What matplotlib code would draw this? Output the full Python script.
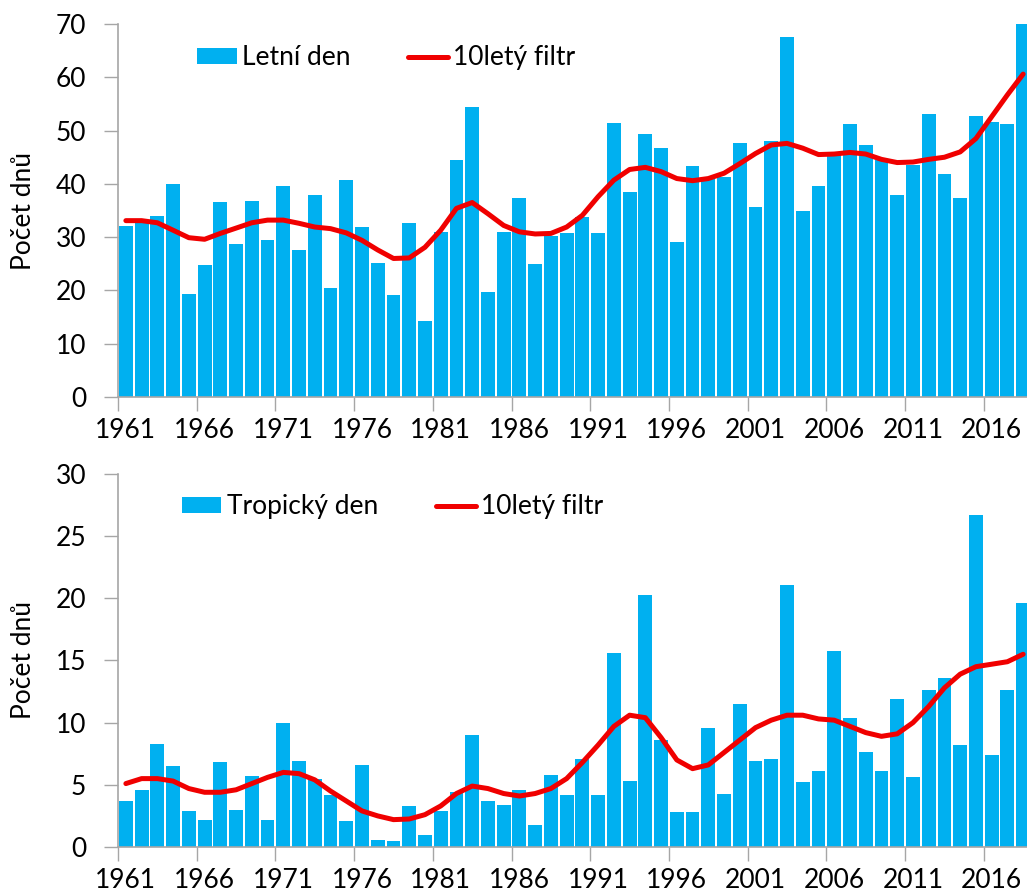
import numpy as np
import matplotlib
matplotlib.use("Agg")
import matplotlib.pyplot as plt

plt.rcParams['font.family'] = ['Lato', 'DejaVu Sans']

years = list(range(1961, 2019))

letni_den = [32.1, 33.0, 33.9, 40.0, 19.3, 24.7, 36.6, 28.7, 36.8, 29.4,
             39.6, 27.6, 37.9, 20.5, 40.7, 31.9, 25.2, 19.1, 32.7, 14.2,
             31.0, 44.4, 54.4, 19.7, 31.0, 37.3, 25.0, 30.2, 30.7, 33.8,
             30.7, 51.5, 38.4, 49.4, 46.8, 29.0, 43.3, 41.0, 41.3, 47.7,
             35.6, 48.0, 67.6, 35.0, 39.6, 45.8, 51.2, 47.3, 44.5, 37.9,
             43.5, 53.2, 41.8, 37.3, 52.7, 51.7, 51.3, 70.0]
letni_filtr = [33.1, 33.1, 32.7, 31.3, 29.9, 29.6, 30.7, 31.7, 32.7, 33.2,
               33.2, 32.6, 31.9, 31.6, 30.8, 29.4, 27.6, 26.0, 26.1, 28.1,
               31.3, 35.4, 36.5, 34.4, 32.2, 31.0, 30.6, 30.7, 31.9, 34.1,
               37.6, 40.7, 42.7, 43.1, 42.3, 41.0, 40.6, 41.0, 42.0, 43.8,
               45.7, 47.3, 47.6, 46.7, 45.5, 45.6, 45.9, 45.6, 44.6, 44.0,
               44.1, 44.6, 45.0, 46.0, 48.5, 52.6, 56.7, 60.6]

tropicky_den = [3.7, 4.6, 8.3, 6.5, 2.9, 2.2, 6.8, 3.0, 5.7, 2.2,
                10.0, 6.9, 5.5, 4.2, 2.1, 6.6, 0.6, 0.5, 3.3, 1.0,
                2.9, 4.4, 9.0, 3.7, 3.4, 4.6, 1.8, 5.8, 4.2, 7.1,
                4.2, 15.6, 5.3, 20.3, 8.6, 2.8, 2.8, 9.6, 4.3, 11.5,
                6.9, 7.1, 21.1, 5.2, 6.1, 15.8, 10.4, 7.6, 6.1, 11.9,
                5.6, 12.6, 13.6, 8.2, 26.7, 7.4, 12.6, 19.6]
tropicky_filtr = [5.1, 5.5, 5.5, 5.3, 4.7, 4.4, 4.4, 4.6, 5.1, 5.6,
                  6.0, 5.9, 5.4, 4.5, 3.7, 2.9, 2.5, 2.2, 2.25, 2.6,
                  3.3, 4.3, 4.9, 4.7, 4.3, 4.1, 4.3, 4.7, 5.5, 6.8,
                  8.2, 9.7, 10.6, 10.4, 8.8, 7.0, 6.3, 6.6, 7.6, 8.6,
                  9.6, 10.2, 10.6, 10.6, 10.3, 10.2, 9.7, 9.2, 8.9, 9.1,
                  10.0, 11.3, 12.8, 13.9, 14.5, 14.7, 14.9, 15.5]

BAR = '#00B0F0'
LINE = '#F00000'
AXC = '#A6A6A6'
FS = 19

fig = plt.figure(figsize=(10.27, 8.96), dpi=100)


def panel(rect, bars, smooth, ymax, ystep, bar_label, leg_xy):
    ax = fig.add_axes(rect)
    x = np.arange(len(years))
    b = ax.bar(x, bars, width=0.88, color=BAR, zorder=2)
    ln, = ax.plot(x, smooth, color=LINE, lw=3.6, zorder=3,
                  solid_capstyle='round', solid_joinstyle='round')
    ax.set_xlim(-0.5, len(years) - 0.5)
    ax.set_ylim(0, ymax)
    ax.set_yticks(np.arange(0, ymax + 1, ystep))
    ax.tick_params(axis='y', direction='out', length=10, width=1, color=AXC,
                   labelsize=FS, pad=13)
    # tick marks on category boundaries, labels centred under the bars
    ax.set_xticks(np.arange(-0.5, len(years), 5))
    ax.set_xticklabels([])
    ax.tick_params(axis='x', which='major', direction='out', length=10,
                   width=1, color=AXC)
    ax.set_xticks(np.arange(0, len(years), 5), minor=True)
    ax.set_xticklabels([str(y) for y in years[::5]], minor=True)
    ax.tick_params(axis='x', which='minor', length=0, labelsize=FS, pad=15)
    for s in ('top', 'right'):
        ax.spines[s].set_visible(False)
    for s in ('left', 'bottom'):
        ax.spines[s].set_color(AXC)
        ax.spines[s].set_linewidth(1.2)
    fig.text(24 / 1027, rect[1] + rect[3] / 2, 'Počet dnů', fontsize=FS,
             rotation=90, ha='center', va='center')
    ax.legend([b, ln], [bar_label, '10letý filtr'], loc='center left',
              bbox_to_anchor=leg_xy, ncol=2, frameon=False, fontsize=FS,
              handlelength=1.5, handletextpad=0.2, columnspacing=2.2,
              borderpad=0, borderaxespad=0, handleheight=0.55)
    return ax


panel([0.1149, 0.5569, 0.889, 0.4163], letni_den, letni_filtr, 70, 10,
      'Letní den', (0.0865, 0.909))
panel([0.1149, 0.0547, 0.889, 0.4163], tropicky_den, tropicky_filtr, 30, 5,
      'Tropický den', (0.070, 0.912))

fig.savefig('out.png', dpi=100)
